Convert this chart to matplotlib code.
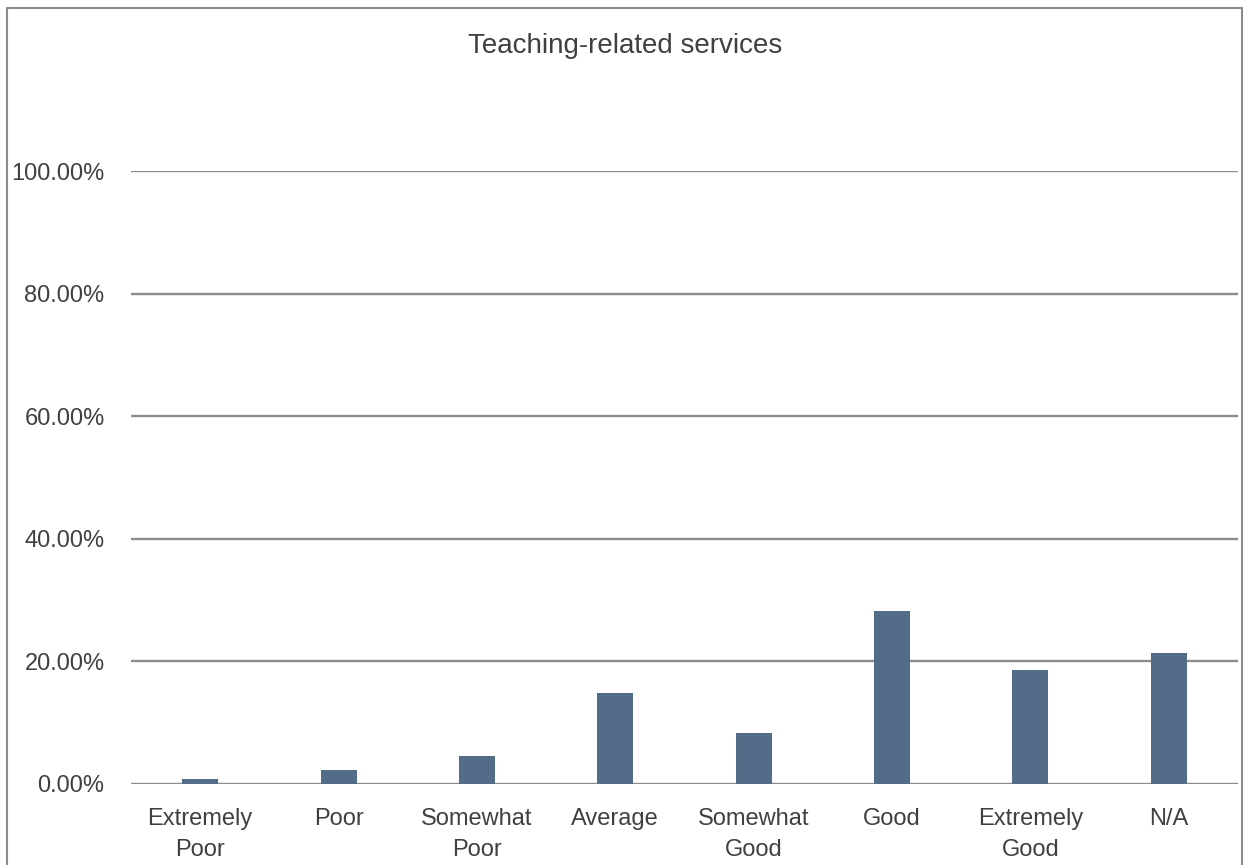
import matplotlib
matplotlib.use("Agg")
import matplotlib.pyplot as plt
from matplotlib.patches import Rectangle
from matplotlib import font_manager

categories = ["Extremely\nPoor", "Poor", "Somewhat\nPoor", "Average",
              "Somewhat\nGood", "Good", "Extremely\nGood", "N/A"]
values = [0.8, 2.3, 4.6, 14.9, 8.4, 28.2, 18.6, 21.4]
yticks = [0, 20, 40, 60, 80, 100]
ytick_labels = ["0.00%", "20.00%", "40.00%", "60.00%", "80.00%", "100.00%"]
title = "Teaching-related services"

names = {f.name for f in font_manager.fontManager.ttflist}
fam = "Liberation Sans Narrow" if "Liberation Sans Narrow" in names else "Liberation Sans"
plt.rcParams['font.family'] = [fam, 'DejaVu Sans']

W, H = 1244, 865
fig = plt.figure(figsize=(W/100, H/100), dpi=100)
ax = fig.add_axes([131/W, (H-784)/H, (1238-131)/W, (784-171)/H])

text_color = "#404040"
grid_color = "#8c8c8c"
bar_color = "#536d89"

x = range(len(categories))
ax.bar(x, values, width=0.26, color=bar_color, zorder=3)
ax.set_xlim(-0.5, len(categories) - 0.5)
ax.set_ylim(0, 100)
ax.set_yticks(yticks)
ax.set_yticklabels(ytick_labels)
ax.set_xticks(list(x))
ax.set_xticklabels(categories, linespacing=1.55)
ax.yaxis.grid(True, color=grid_color, linewidth=1.7, zorder=0)
ax.set_axisbelow(True)
for s in ax.spines.values():
    s.set_visible(False)
ax.tick_params(axis='both', length=0, colors=text_color, labelsize=17)
ax.tick_params(axis='y', pad=19)
ax.tick_params(axis='x', pad=17)
for lbl in ax.get_xticklabels() + ax.get_yticklabels():
    lbl.set_color(text_color)

fig.text(625/W, 1 - 46/H, title, ha='center', va='center', fontsize=20, color=text_color)

fig.patches.append(Rectangle((7/W, -0.05), (1242-7)/W, (H-8)/H + 0.05,
                             transform=fig.transFigure, fill=False,
                             edgecolor="#8c8c8c", linewidth=1.5))

fig.savefig("out.png", dpi=100)
